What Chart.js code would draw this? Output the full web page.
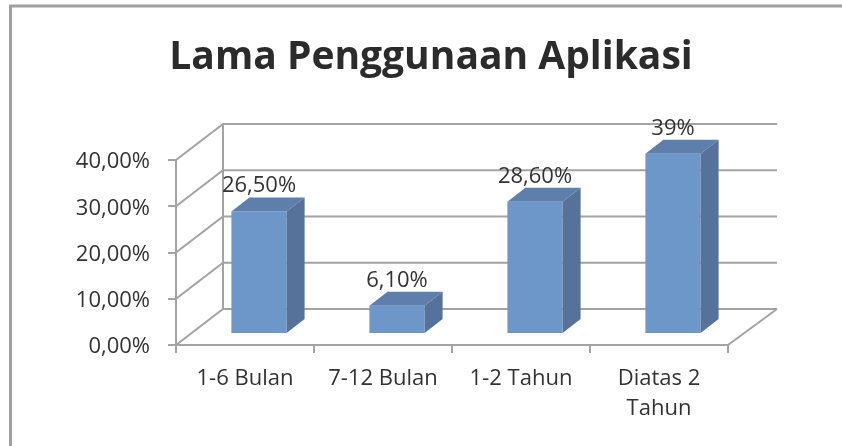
<!DOCTYPE html>
<html><head><meta charset="utf-8">
<script src="https://cdn.jsdelivr.net/npm/chart.js@4.4.0/dist/chart.umd.min.js"></script>
<style>html,body{margin:0;padding:0;background:#fff;overflow:hidden}canvas{display:block}</style>
</head><body>
<canvas id="c" width="842" height="446"></canvas>
<script>
const titleText = 'Lama Penggunaan Aplikasi';
const categories = ['1-6 Bulan', '7-12 Bulan', '1-2 Tahun', ['Diatas 2', 'Tahun']];
const values = [26.5, 6.1, 28.6, 39];
const valueLabels = ['26,50%', '6,10%', '28,60%', '39%'];
const yTicks = [0, 10, 20, 30, 40];

const FONT = '"Open Sans", sans-serif';
const GRID = '#a3a3a3';
const TEXT = '#333333';
const FRONT = '#6e97c9', TOP = '#5e7fac', SIDE = '#57729a';
const BAR_SHIFT = {x: 14, y: -11};
const BAR_DEPTH = {x: 18, y: -14};
const BACK = {x: 47, y: -36};

const frame = {
  id: 'frame',
  beforeDraw(chart) {
    const c = chart.ctx;
    c.save();
    c.fillStyle = '#fff';
    c.fillRect(0, 0, chart.width, chart.height);
    c.strokeStyle = '#a0a0a0';
    c.lineWidth = 3;
    c.strokeRect(10.5, 6, chart.width + 20, chart.height + 20);
    c.restore();
  }
};

const walls = {
  id: 'walls',
  beforeDatasetsDraw(chart) {
    const {ctx, chartArea: a, scales: {y}} = chart;
    ctx.save();
    ctx.strokeStyle = GRID;
    ctx.lineWidth = 2;
    ctx.beginPath();
    yTicks.forEach(v => {
      const py = y.getPixelForValue(v);
      ctx.moveTo(a.left, py);
      ctx.lineTo(a.left + BACK.x, py + BACK.y);
      ctx.lineTo(a.right + BACK.x + 2, py + BACK.y);
    });
    const y0 = y.getPixelForValue(yTicks[0]), y1 = y.getPixelForValue(yTicks[yTicks.length - 1]);
    ctx.moveTo(a.left + BACK.x, y0 + BACK.y);
    ctx.lineTo(a.left + BACK.x, y1 + BACK.y);
    ctx.moveTo(a.right, a.bottom);
    ctx.lineTo(a.right + BACK.x + 2, a.bottom + BACK.y);
    ctx.stroke();
    ctx.restore();
  },
  beforeDatasetDraw(chart) {
    chart.ctx.save();
    chart.ctx.translate(BAR_SHIFT.x, BAR_SHIFT.y);
  },
  afterDatasetDraw(chart) {
    chart.ctx.restore();
  },
  afterDatasetsDraw(chart) {
    const ctx = chart.ctx;
    const meta = chart.getDatasetMeta(0);
    ctx.save();
    meta.data.forEach((bar, i) => {
      const p = bar.getProps(['x', 'y', 'base', 'width'], true);
      const L = p.x - p.width / 2 + BAR_SHIFT.x, R = p.x + p.width / 2 + BAR_SHIFT.x;
      const T = p.y + BAR_SHIFT.y, B = p.base + BAR_SHIFT.y;
      ctx.fillStyle = TOP;
      ctx.beginPath();
      ctx.moveTo(L, T); ctx.lineTo(R, T);
      ctx.lineTo(R + BAR_DEPTH.x, T + BAR_DEPTH.y); ctx.lineTo(L + BAR_DEPTH.x, T + BAR_DEPTH.y);
      ctx.closePath(); ctx.fill();
      ctx.fillStyle = SIDE;
      ctx.beginPath();
      ctx.moveTo(R, T); ctx.lineTo(R + BAR_DEPTH.x, T + BAR_DEPTH.y);
      ctx.lineTo(R + BAR_DEPTH.x, B + BAR_DEPTH.y); ctx.lineTo(R, B);
      ctx.closePath(); ctx.fill();
      ctx.fillStyle = TEXT;
      ctx.font = '22px ' + FONT;
      ctx.textAlign = 'center';
      ctx.textBaseline = 'alphabetic';
      ctx.fillText(valueLabels[i], (L + R) / 2, T + BAR_DEPTH.y - 5);
    });
    ctx.restore();
  }
};

let made = false;
function make() {
  if (made) return; made = true;
  new Chart(document.getElementById('c'), {
    type: 'bar',
    data: {
      labels: categories,
      datasets: [{
        data: values,
        backgroundColor: FRONT,
        borderWidth: 0,
        barPercentage: 0.4,
        categoryPercentage: 1,
        clip: false
      }]
    },
    options: {
      responsive: false,
      devicePixelRatio: 1,
      animation: false,
      events: [],
      layout: {padding: {left: 20, right: 0, top: 0, bottom: 0}},
      plugins: {
        legend: {display: false},
        tooltip: {enabled: false},
        title: {
          display: true,
          text: titleText,
          color: '#2b2b2b',
          font: {family: FONT, size: 39, weight: 'bold', lineHeight: 1.2},
          padding: {top: 34, bottom: 79.2}
        }
      },
      scales: {
        x: {
          grid: {display: true, drawOnChartArea: false, drawTicks: true, tickLength: 8, color: GRID, lineWidth: 2, offset: true},
          border: {display: true, color: GRID, width: 2},
          ticks: {font: {family: FONT, size: 22, lineHeight: 30 / 22}, color: TEXT, padding: 11, maxRotation: 0, autoSkip: false},
          afterFit(s) { s.height = 101; }
        },
        y: {
          min: yTicks[0],
          max: yTicks[yTicks.length - 1],
          grid: {display: true, drawOnChartArea: false, drawTicks: true, tickLength: 8, color: GRID, lineWidth: 2},
          border: {display: true, color: GRID, width: 2},
          ticks: {
            stepSize: 10,
            font: {family: FONT, size: 22},
            color: TEXT,
            padding: 18,
            labelOffset: 2,
            callback: v => v.toFixed(2).replace('.', ',') + '%'
          },
          afterFit(s) { s.width = 156; }
        },
        yR: {
          type: 'linear',
          position: 'right',
          display: true,
          grid: {display: false, drawTicks: false},
          border: {display: false},
          ticks: {display: false},
          afterFit(s) { s.width = 114; }
        }
      }
    },
    plugins: [frame, walls]
  });
}
Promise.all([
  document.fonts.load('22px "Open Sans"'),
  document.fonts.load('bold 39px "Open Sans"')
]).then(make, make);
setTimeout(make, 1500);
</script>
</body></html>
